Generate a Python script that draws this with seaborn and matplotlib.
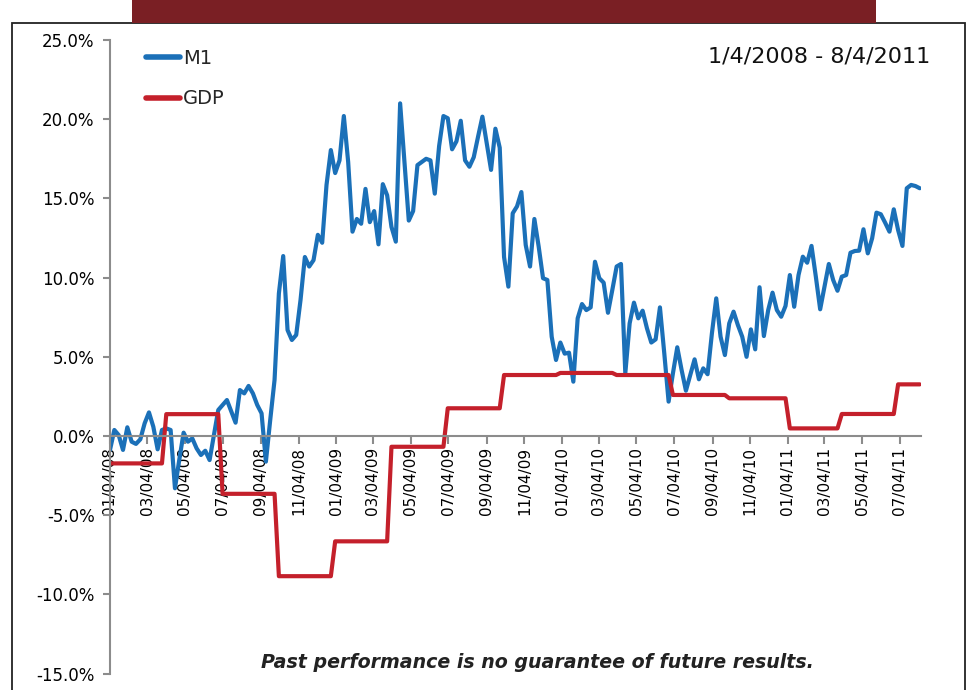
import matplotlib
matplotlib.use("Agg")
import numpy as np
import pandas as pd
import matplotlib.pyplot as plt
import matplotlib.dates as mdates
import matplotlib.ticker as mticker
from matplotlib.patches import Rectangle
from matplotlib import font_manager
import seaborn as sns

# ---------------- data ----------------
start_date = "2008-01-04"          # weekly observations, Fridays
m1_growth = [
    -0.88, 0.38, 0.06, -0.88, 0.55, -0.36, -0.50, -0.21, 0.80, 1.49,
    0.59, -0.84, 0.38, 0.48, 0.38, -3.30, -1.50, 0.21, -0.36, -0.15,
    -0.78, -1.20, -0.93, -1.52, 0.06, 1.64, 1.95, 2.27, 1.55, 0.84,
    2.90, 2.69, 3.16, 2.69, 1.96, 1.43, -1.62, 1.01, 3.54, 9.00,
    11.36, 6.69, 6.06, 6.38, 8.59, 11.30, 10.70, 11.10, 12.70, 12.20,
    15.85, 18.05, 16.60, 17.40, 20.20, 17.30, 12.90, 13.70, 13.40, 15.60,
    13.50, 14.20, 12.10, 15.90, 15.20, 13.20, 12.27, 21.00, 17.30, 13.60,
    14.20, 17.10, 17.30, 17.50, 17.40, 15.30, 18.30, 20.20, 20.06, 18.10,
    18.60, 19.90, 17.40, 17.00, 17.60, 18.90, 20.16, 18.50, 16.80, 19.40,
    18.20, 11.30, 9.43, 14.06, 14.50, 15.40, 12.06, 10.70, 13.70, 11.95,
    9.96, 9.85, 6.27, 4.80, 5.90, 5.20, 5.26, 3.43, 7.43, 8.33,
    7.95, 8.12, 11.00, 9.96, 9.68, 7.78, 9.22, 10.70, 10.86, 3.96,
    7.11, 8.42, 7.43, 7.91, 6.80, 5.90, 6.10, 8.12, 5.22, 2.17,
    3.96, 5.60, 4.17, 2.86, 3.85, 4.84, 3.58, 4.27, 3.90, 6.48,
    8.69, 6.27, 5.11, 7.11, 7.85, 7.00, 6.27, 5.00, 6.73, 5.47,
    9.39, 6.31, 7.95, 9.05, 7.95, 7.53, 8.21, 10.16, 8.16, 10.16,
    11.32, 10.94, 12.00, 10.06, 8.00, 9.43, 10.86, 9.85, 9.17, 10.06,
    10.16, 11.57, 11.68, 11.70, 13.05, 11.53, 12.48, 14.10, 14.00, 13.47,
    12.90, 14.31, 13.00, 12.00, 15.64, 15.85, 15.78, 15.64,
]

gdp_dates = ["2008-01-04", "2008-04-01", "2008-07-01", "2008-10-01",
             "2009-01-01", "2009-04-01", "2009-07-01", "2009-10-01",
             "2010-01-01", "2010-04-01", "2010-07-01", "2010-10-01",
             "2011-01-05", "2011-04-01", "2011-07-01"]
gdp_growth = [-1.73, 1.38, -3.65, -8.85, -6.65, -0.68, 1.75, 3.85,
              3.98, 3.85, 2.59, 2.38, 0.48, 1.39, 3.26]

series_labels = ["M1", "GDP"]
y_ticks = [-15, -10, -5, 0, 5, 10, 15, 20, 25]
period_label = "1/4/2008 - 8/4/2011"
footnote = "Past performance is no guarantee of future results."

# ---------------- build frames ----------------
dates = pd.date_range(start_date, periods=len(m1_growth), freq="7D")
df = pd.DataFrame({"date": dates, "M1": m1_growth})
gdp_df = pd.DataFrame({"date": pd.to_datetime(gdp_dates), "GDP": gdp_growth})
df = pd.merge_asof(df, gdp_df, on="date")

# ---------------- style ----------------
sns.set_theme(style="white")
plt.rcParams["font.family"] = ["DejaVu Sans"]

installed = {f.name for f in font_manager.fontManager.ttflist}
narrow = "Liberation Sans Narrow" if "Liberation Sans Narrow" in installed else None

BLUE = "#1B70B8"
RED = "#C4202B"
GRAY = "#8C8C8C"

W, H = 967, 690
fig = plt.figure(figsize=(W / 100, H / 100), dpi=100)
fig.patch.set_facecolor("white")

ax_left, ax_right = 110 / W, 921 / W
ax_bottom, ax_top = 1 - 673.6 / H, 1 - 40 / H
ax = fig.add_axes([ax_left, ax_bottom, ax_right - ax_left, ax_top - ax_bottom])
ax.set_facecolor("none")

sns.lineplot(data=df, x="date", y="M1", ax=ax, color=BLUE, lw=3.0,
             label=series_labels[0], solid_joinstyle="round")
sns.lineplot(data=df, x="date", y="GDP", ax=ax, color=RED, lw=3.0,
             label=series_labels[1], solid_joinstyle="round")

ax.set_ylim(-15, 25)
ax.set_yticks(y_ticks)
ax.yaxis.set_major_formatter(mticker.FuncFormatter(lambda v, p: f"{v:.1f}%"))
ax.set_xlim(pd.Timestamp("2008-01-04"), pd.Timestamp("2011-08-07"))
ax.xaxis.set_major_locator(mdates.MonthLocator(bymonth=[1, 3, 5, 7, 9, 11], bymonthday=4))
ax.xaxis.set_major_formatter(mdates.DateFormatter("%m/%d/%y"))
ax.set_xlabel("")
ax.set_ylabel("")
ax.set_axisbelow(True)

for s in ["top", "right"]:
    ax.spines[s].set_visible(False)
ax.spines["left"].set_color(GRAY)
ax.spines["left"].set_linewidth(1.5)
ax.spines["bottom"].set_color(GRAY)
ax.spines["bottom"].set_linewidth(1.5)
ax.spines["bottom"].set_position(("data", 0))

ax.tick_params(axis="y", direction="out", length=5, width=1.5, color=GRAY,
               pad=6, labelsize=(13.5 if narrow else 12), labelcolor="black", left=True)
ax.tick_params(axis="x", direction="out", length=6, width=1.5, color=GRAY,
               pad=2, labelsize=11, labelcolor="black", labelrotation=90, bottom=True)
if narrow:
    for t in ax.get_yticklabels():
        t.set_fontfamily([narrow, "DejaVu Sans"])

leg = ax.legend(loc="upper left", bbox_to_anchor=(146 / W, 1 - 49 / H),
                bbox_transform=fig.transFigure, frameon=False, fontsize=14,
                handlelength=1.75, handletextpad=0.15, borderpad=0,
                borderaxespad=0, labelspacing=1.1)
for line in leg.get_lines():
    line.set_linewidth(4)

fig.text(930 / W, 1 - 57 / H, period_label, ha="right", va="center",
         fontsize=16, color="#111111")
fig.text(537 / W, 1 - 663 / H, footnote, ha="center", va="center",
         fontsize=13.7, fontweight="bold", fontstyle="italic", color="#222222")

# decorative frame and top bar
fig.add_artist(Rectangle((12 / W, -0.05), 953 / W, (H - 23) / H + 0.05,
                         transform=fig.transFigure, fill=False,
                         edgecolor="#222222", lw=1.3))
fig.add_artist(Rectangle((132 / W, 1 - 23 / H), 744 / W, 23 / H,
                         transform=fig.transFigure, facecolor="#7A1F24",
                         edgecolor="none"))

fig.savefig("out.png", dpi=100)
